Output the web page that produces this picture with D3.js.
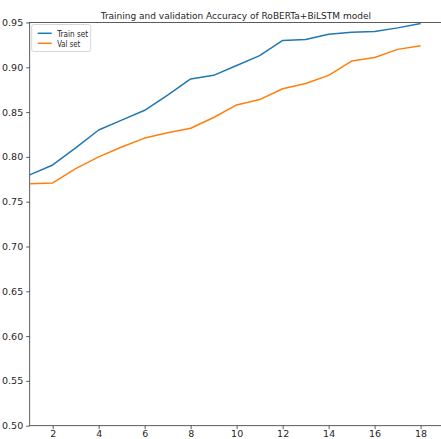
<!DOCTYPE html>
<html>
<head>
<meta charset="utf-8">
<script src="https://cdn.jsdelivr.net/npm/d3@7/dist/d3.min.js"></script>
<style>
  html, body { margin: 0; padding: 0; background: #fff; }
  svg { display: block; }
  text { font-family: "DejaVu Sans", sans-serif; fill: #262626; }
</style>
</head>
<body>
<svg id="chart" width="441" height="439"></svg>
<script>
// Accuracy per epoch
const epochs = [1, 2, 3, 4, 5, 6, 7, 8, 9, 10, 11, 12, 13, 14, 15, 16, 17, 18];
const trainAcc = [0.780, 0.791, 0.810, 0.830, 0.841, 0.852, 0.869, 0.887, 0.891, 0.902, 0.913, 0.930, 0.931, 0.937, 0.939, 0.940, 0.944, 0.949];
const valAcc = [0.770, 0.771, 0.787, 0.800, 0.811, 0.821, 0.827, 0.832, 0.844, 0.858, 0.864, 0.876, 0.882, 0.891, 0.907, 0.911, 0.920, 0.924];
const yTicks = [0.50, 0.55, 0.60, 0.65, 0.70, 0.75, 0.80, 0.85, 0.90, 0.95];
const xTicks = [2, 4, 6, 8, 10, 12, 14, 16, 18];
const seriesNames = ["Train set", "Val set"];
const seriesColors = ["#1f77b4", "#ff7f0e"];
const title = "Training and validation Accuracy of RoBERTa+BiLSTM model";

const svg = d3.select("#chart");
const m = { left: 29.7, right: 442, top: 22.5, bottom: 425.7 };

const x = d3.scaleLinear().domain([1, 18.93]).range([m.left, m.right]);
const y = d3.scaleLinear().domain([0.50, 0.95]).range([m.bottom, m.top]);

// axes
const yAxis = d3.axisLeft(y).tickValues(yTicks).tickFormat(d3.format(".2f")).tickSize(3.5).tickPadding(3);
const xAxis = d3.axisBottom(x).tickValues(xTicks).tickFormat(d3.format("d")).tickSize(3.5).tickPadding(1);

const gy = svg.append("g").attr("transform", `translate(${m.left},0)`).call(yAxis);
const gx = svg.append("g").attr("transform", `translate(0,${m.bottom})`).call(xAxis);
[gx, gy].forEach(g => {
  g.select(".domain").remove();
  g.selectAll(".tick line").attr("stroke", "#333").attr("stroke-width", 0.8);
  g.selectAll(".tick text").attr("font-size", 9.5).attr("font-family", "DejaVu Sans").attr("fill", "#333");
});

// frame
svg.append("rect")
  .attr("x", m.left).attr("y", m.top)
  .attr("width", m.right - m.left).attr("height", m.bottom - m.top)
  .attr("fill", "none").attr("stroke", "#333").attr("stroke-width", 0.8);

// lines
const line = d3.line().x((d, i) => x(epochs[i])).y(d => y(d));
[trainAcc, valAcc].forEach((s, k) => {
  svg.append("path")
    .datum(s)
    .attr("d", line)
    .attr("fill", "none")
    .attr("stroke", seriesColors[k])
    .attr("stroke-width", 1.5)
    .attr("stroke-linejoin", "round");
});

// title
svg.append("text")
  .attr("x", (m.left + m.right) / 2).attr("y", m.top - 4)
  .attr("text-anchor", "middle")
  .attr("font-size", 9)
  .text(title);

// legend
const lg = svg.append("g").attr("transform", `translate(${m.left + 2},${m.top + 2})`);
lg.append("rect")
  .attr("width", 59).attr("height", 27).attr("rx", 2)
  .attr("fill", "#fff").attr("fill-opacity", 0.8)
  .attr("stroke", "#ccc").attr("stroke-width", 0.8);
const legendTextLen = [31, 23];
seriesNames.forEach((name, i) => {
  const yy = 8.8 + i * 10;
  lg.append("line")
    .attr("x1", 6).attr("x2", 20).attr("y1", yy).attr("y2", yy)
    .attr("stroke", seriesColors[i]).attr("stroke-width", 1.5);
  lg.append("text")
    .attr("x", 25.5).attr("y", yy + 3.4)
    .attr("font-size", 9.5)
    .attr("textLength", legendTextLen[i])
    .attr("lengthAdjust", "spacingAndGlyphs")
    .text(name);
});
</script>
</body>
</html>
